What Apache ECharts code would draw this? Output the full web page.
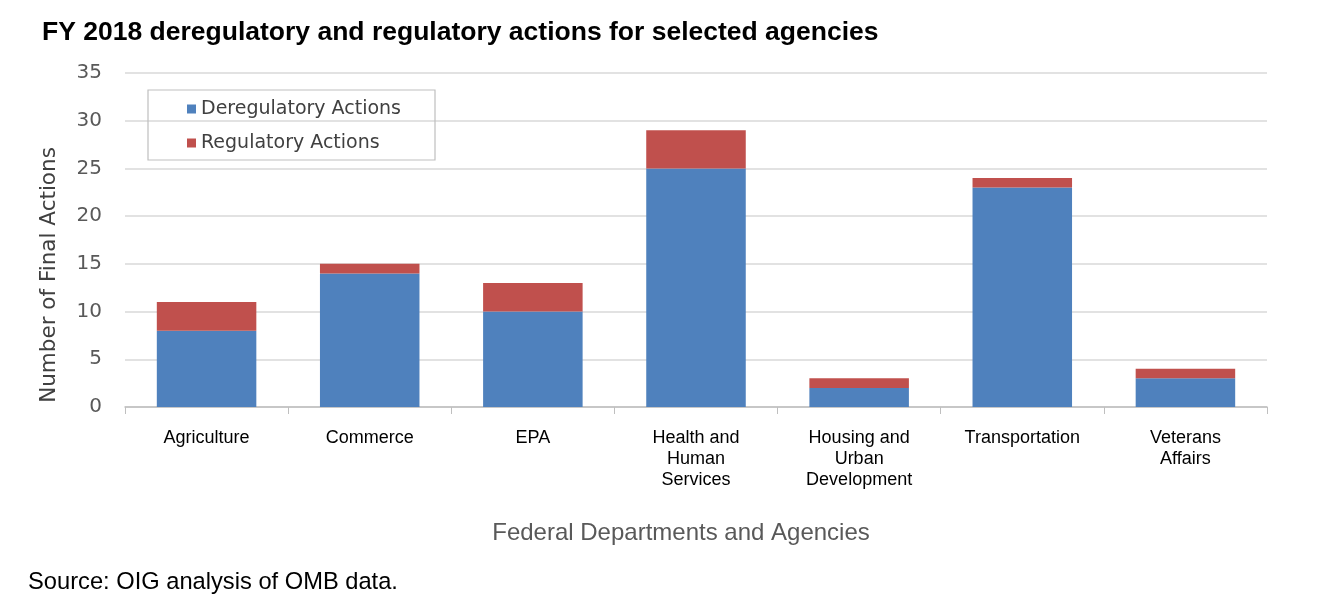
<!DOCTYPE html>
<html>
<head>
<meta charset="utf-8">
<script src="https://cdn.jsdelivr.net/npm/echarts@6/dist/echarts.min.js"></script>
<style>
html,body{margin:0;padding:0;background:#fff;}
#chart{width:1340px;height:606px;}
</style>
</head>
<body>
<div id="chart"></div>
<script>
const categories = ['Agriculture', 'Commerce', 'EPA', 'Health and\nHuman\nServices', 'Housing and\nUrban\nDevelopment', 'Transportation', 'Veterans\nAffairs'];
const deregulatory = [8, 14, 10, 25, 2, 23, 3];
const regulatory = [3, 1, 3, 4, 1, 1, 1];
const yTicks = [0, 5, 10, 15, 20, 25, 30, 35];

const chart = echarts.init(document.getElementById('chart'));
chart.setOption({
  animation: false,
  title: [{
    text: 'FY 2018 deregulatory and regulatory actions for selected agencies',
    left: 37, top: 14,
    textStyle: {fontFamily: 'Liberation Sans', fontWeight: 'bold', fontSize: 26.5, color: '#000'}
  }, {
    text: 'Source: OIG analysis of OMB data.',
    left: 23, top: 565,
    textStyle: {fontFamily: 'Liberation Sans', fontWeight: 'normal', fontSize: 23.7, color: '#000'}
  }],
  legend: {
    orient: 'vertical',
    left: 148, top: 90,
    padding: [9.5, 34, 7.5, 39],
    itemGap: 15,
    itemWidth: 9, itemHeight: 9,
    icon: 'rect',
    borderColor: '#bfbfbf', borderWidth: 1.2,
    textStyle: {fontFamily: 'DejaVu Sans', fontSize: 19, color: '#404040'},
    data: ['Deregulatory Actions', 'Regulatory Actions']
  },
  grid: {left: 125, right: 73, top: 73, bottom: 199, containLabel: false},
  xAxis: {
    type: 'category',
    data: categories,
    name: 'Federal Departments and Agencies',
    nameLocation: 'middle',
    nameGap: 114,
    nameTextStyle: {fontFamily: 'Liberation Sans', fontSize: 24, color: '#595959', padding: [0, 30, 0, 0]},
    axisLine: {lineStyle: {color: '#bfbfbf', width: 1.5}},
    axisTick: {show: true, length: 7, lineStyle: {color: '#bfbfbf'}},
    axisLabel: {fontFamily: 'Liberation Sans', fontSize: 18, color: '#000', lineHeight: 21, margin: 21}
  },
  yAxis: {
    type: 'value',
    min: 0, max: 35, interval: 5,
    name: 'Number of Final Actions',
    nameLocation: 'middle',
    nameGap: 65,
    nameTextStyle: {fontFamily: 'DejaVu Sans', fontSize: 21.5, color: '#404040', padding: [0, 70, 0, 0]},
    axisLine: {show: false},
    axisTick: {show: false},
    axisLabel: {fontFamily: 'DejaVu Sans', fontSize: 20, color: '#595959', margin: 23,
      formatter: v => yTicks.includes(v) ? String(v) : ''},
    splitLine: {lineStyle: {color: '#d9d9d9', width: 1.5}}
  },
  series: [{
    name: 'Deregulatory Actions',
    type: 'bar', stack: 'total',
    data: deregulatory,
    barWidth: '61%',
    itemStyle: {color: '#4F81BD'}
  }, {
    name: 'Regulatory Actions',
    type: 'bar', stack: 'total',
    data: regulatory,
    barWidth: '61%',
    itemStyle: {color: '#C0504D'}
  }]
});
</script>
</body>
</html>
